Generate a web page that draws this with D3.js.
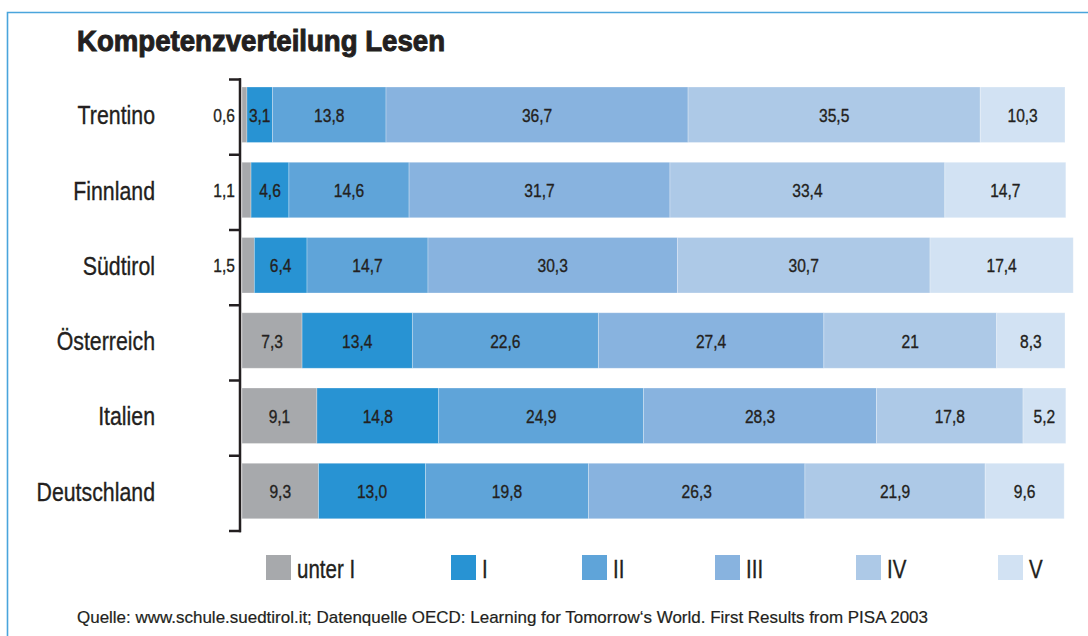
<!DOCTYPE html>
<html>
<head>
<meta charset="utf-8">
<script src="https://cdn.jsdelivr.net/npm/d3@7"></script>
<style>
  body { margin: 0; background: #fff; }
  svg text { font-family: "Liberation Sans", Arial, sans-serif; fill: #231f20; stroke: #231f20; stroke-width: 0.35px; }
</style>
</head>
<body>
<svg id="chart" width="1088" height="636"></svg>
<script>
const width = 1088,
    height = 636,
    narrow = 0.82; // horizontale Stauchung für schmale Schrift

// Kategorien (Länder / Regionen)
const regions = ["Trentino", "Finnland", "Südtirol", "Österreich", "Italien", "Deutschland"];
// Kompetenzstufen
const levels = ["unter I", "I", "II", "III", "IV", "V"];
const levelColors = ["#a7a9ac", "#2893d3", "#5fa4d9", "#88b3df", "#adc9e7", "#d2e2f3"];

// Werte in Prozent, je Stufe eine Liste (Reihenfolge wie regions)
const unterI = [0.6, 1.1, 1.5, 7.3, 9.1, 9.3];
const stufeI = [3.1, 4.6, 6.4, 13.4, 14.8, 13.0];
const stufeII = [13.8, 14.6, 14.7, 22.6, 24.9, 19.8];
const stufeIII = [36.7, 31.7, 30.3, 27.4, 28.3, 26.3];
const stufeIV = [35.5, 33.4, 30.7, 21, 17.8, 21.9];
const stufeV = [10.3, 14.7, 17.4, 8.3, 5.2, 9.6];
// Beschriftungen wie im Original (teilweise ohne Nachkommastelle)
const labelTexts = [
    ["0,6", "1,1", "1,5", "7,3", "9,1", "9,3"],
    ["3,1", "4,6", "6,4", "13,4", "14,8", "13,0"],
    ["13,8", "14,6", "14,7", "22,6", "24,9", "19,8"],
    ["36,7", "31,7", "30,3", "27,4", "28,3", "26,3"],
    ["35,5", "33,4", "30,7", "21", "17,8", "21,9"],
    ["10,3", "14,7", "17,4", "8,3", "5,2", "9,6"]
];

const title = "Kompetenzverteilung Lesen";
const source = "Quelle: www.schule.suedtirol.it; Datenquelle OECD: Learning for Tomorrow‘s World. First Results from PISA 2003";

const series = [unterI, stufeI, stufeII, stufeIII, stufeIV, stufeV];

const svg = d3.select("#chart");

// Rahmen (nur links und oben sichtbar)
svg.append("path")
    .attr("d", "M7.5," + height + " V12.5 H" + width)
    .attr("fill", "none")
    .attr("stroke", "#4aa5dc")
    .attr("stroke-width", 1.6);

svg.append("text")
    .attr("x", 77)
    .attr("y", 51)
    .attr("font-size", 30)
    .attr("font-weight", "bold")
    .attr("textLength", 368)
    .attr("lengthAdjust", "spacingAndGlyphs")
    .style("stroke-width", 1)
    .text(title);

const x = d3.scaleLinear().domain([0, 100]).range([242, 1065]);
const y = d3.scaleBand().domain(regions).range([79.5, 531]);

// Stapel berechnen
const rows = regions.map(function (r, i) {
    const row = { region: r };
    levels.forEach(function (l, j) { row[l] = series[j][i]; });
    return row;
});
const stacked = d3.stack().keys(levels)(rows);

const barOffset = 7.5,
    barHeight = 55.5;

const layer = svg.append("g").selectAll("g")
    .data(stacked)
    .enter().append("g")
    .attr("fill", (d, i) => levelColors[i]);

layer.selectAll("rect")
    .data(d => d)
    .enter().append("rect")
    .attr("x", d => x(d[0]))
    .attr("y", d => y(d.data.region) + barOffset)
    .attr("width", d => x(d[1]) - x(d[0]))
    .attr("height", barHeight)
    .attr("stroke", "#ffffff")
    .attr("stroke-opacity", 0.35)
    .attr("stroke-width", 0.8);

function narrowText(sel, tx, ty) {
    return sel.attr("transform", (d, i) => "translate(" + tx(d, i) + "," + ty(d, i) + ") scale(" + narrow + ",1)");
}

// Wertbeschriftungen
stacked.forEach(function (s, j) {
    const isOutside = d => j === 0 && d[1] - d[0] < 2;
    svg.append("g").selectAll("text")
        .data(s)
        .enter().append("text")
        .attr("font-size", 19)
        .attr("text-anchor", d => isOutside(d) ? "end" : "middle")
        .call(narrowText,
            d => isOutside(d) ? 235 : (x(d[0]) + x(d[1])) / 2,
            d => y(d.data.region) + barOffset + barHeight / 2 + 7)
        .text((d, i) => labelTexts[j][i]);
});

// Kategorienbeschriftung
svg.append("g").selectAll("text")
    .data(regions)
    .enter().append("text")
    .attr("text-anchor", "end")
    .attr("font-size", 26)
    .call(narrowText, () => 155, d => y(d) + barOffset + barHeight / 2 + 9.5)
    .text(d => d);

// Achse mit Klammer-Ticks an den Bandgrenzen
const boundaries = regions.map(r => y(r)).concat([y.range()[1]]);
const axisG = svg.append("g")
    .attr("stroke", "#231f20")
    .attr("stroke-width", 2.5)
    .attr("fill", "none");
axisG.append("line")
    .attr("x1", 240).attr("x2", 240)
    .attr("y1", boundaries[0] - 1.2)
    .attr("y2", boundaries[boundaries.length - 1] + 1.2);
axisG.selectAll(".tick")
    .data(boundaries)
    .enter().append("line")
    .attr("class", "tick")
    .attr("x1", 229).attr("x2", 241)
    .attr("y1", d => d).attr("y2", d => d);

// Legende
const legendX = [266, 451, 582, 715, 856, 998];
const legend = svg.append("g").selectAll("g")
    .data(levels)
    .enter().append("g")
    .attr("transform", (d, i) => "translate(" + legendX[i] + ",555)");
legend.append("rect")
    .attr("width", 25)
    .attr("height", 25)
    .attr("fill", (d, i) => levelColors[i]);
legend.append("text")
    .attr("font-size", 25)
    .call(narrowText, () => 31, () => 22.5)
    .text(d => d);

svg.append("text")
    .attr("x", 77)
    .attr("y", 623)
    .attr("font-size", 17)
    .attr("textLength", 851)
    .attr("lengthAdjust", "spacingAndGlyphs")
    .style("stroke-width", 0.2)
    .text(source);
</script>
</body>
</html>
